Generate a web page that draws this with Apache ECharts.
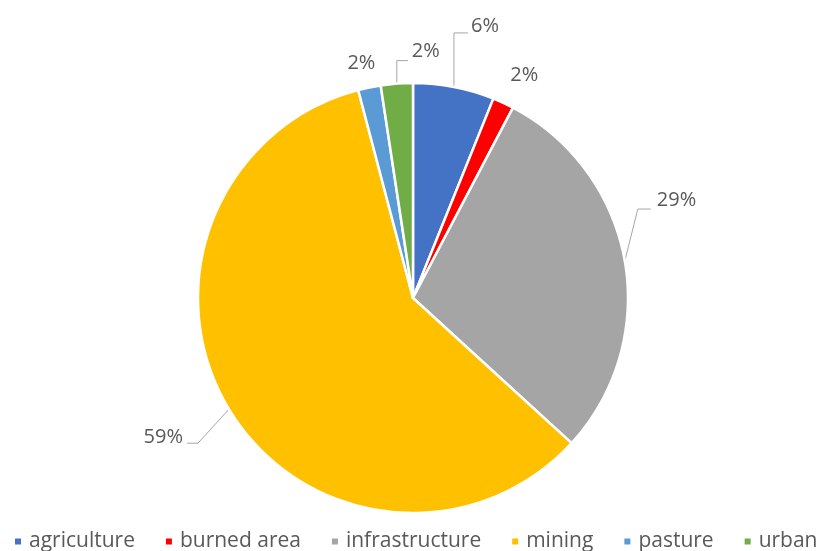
<!DOCTYPE html>
<html>
<head>
<meta charset="utf-8">
<script src="https://cdn.jsdelivr.net/npm/echarts@6/dist/echarts.min.js"></script>
<style>
  html, body { margin: 0; padding: 0; background: #fff; }
  #chart { width: 829px; height: 551px; }
</style>
</head>
<body>
<div id="chart"></div>
<script>
// Land-use categories and their shares (percent)
const categories = ['agriculture', 'burned area', 'infrastructure', 'mining', 'pasture', 'urban'];
const shares = [6.1, 1.6, 29.1, 59.1, 1.7, 2.4];
const colors = ['#4472C4', '#FF0000', '#A5A5A5', '#FFC000', '#5B9BD5', '#70AD47'];

// Leader-line routing for each slice label, relative to the slice's outer arc midpoint.
// corner/end: elbow and end of the leader line; text: label anchor; side: text alignment.
const leaders = [
  { line: true,  corner: [0, -54],  end: [14, -54],  text: [17, -61],  side: 'left'  },
  { line: false, text: [7, -28],  side: 'left'  },
  { line: true,  corner: [13, -52], end: [26, -52],  text: [32, -61],  side: 'left'  },
  { line: true,  corner: [-31, 34], end: [-42, 34],  text: [-46, 28],  side: 'right' },
  { line: false, text: [6, -24],  side: 'right' },
  { line: true,  corner: [0, -23],  end: [11, -23],  text: [15, -32],  side: 'left'  }
];

const chart = echarts.init(document.getElementById('chart'));
const font = '"Open Sans", "Noto Sans", sans-serif';

chart.setOption({
  animation: false,
  backgroundColor: '#ffffff',
  legend: {
    top: 531,
    left: 13,
    padding: 0,
    itemWidth: 8,
    itemHeight: 8,
    itemGap: 29,
    icon: 'rect',
    formatter: name => '{n|' + name + '}',
    textStyle: {
      color: '#595959', fontSize: 21, fontFamily: font,
      rich: { n: { color: '#595959', fontSize: 21, fontFamily: font, padding: [0, 0, 0, 2] } }
    },
    data: categories
  },
  series: [{
    type: 'pie',
    center: [413, 298],
    radius: 215,
    startAngle: 90,
    clockwise: true,
    percentPrecision: 0,
    avoidLabelOverlap: false,
    itemStyle: { borderColor: '#ffffff', borderWidth: 2.5 },
    label: {
      show: true,
      position: 'outside',
      formatter: '{d}%',
      color: '#595959',
      fontSize: 20,
      fontFamily: font
    },
    labelLine: {
      show: true,
      length: 20,
      length2: 10,
      lineStyle: { color: '#A6A6A6', width: 1 }
    },
    labelLayout: function (params) {
      const spec = leaders[params.dataIndex];
      const p0 = params.labelLinePoints[0];
      const out = {
        x: p0[0] + spec.text[0],
        y: p0[1] + spec.text[1],
        align: spec.side,
        verticalAlign: 'middle'
      };
      if (spec.line) {
        out.labelLinePoints = [
          [p0[0], p0[1]],
          [p0[0] + spec.corner[0], p0[1] + spec.corner[1]],
          [p0[0] + spec.end[0], p0[1] + spec.end[1]]
        ];
      } else {
        out.labelLinePoints = [[p0[0], p0[1]], [p0[0], p0[1]], [p0[0], p0[1]]];
      }
      return out;
    },
    data: categories.map((name, i) => ({
      name,
      value: shares[i],
      itemStyle: { color: colors[i] },
      labelLine: leaders[i].line ? undefined : { lineStyle: { opacity: 0 } }
    }))
  }]
});
</script>
</body>
</html>
